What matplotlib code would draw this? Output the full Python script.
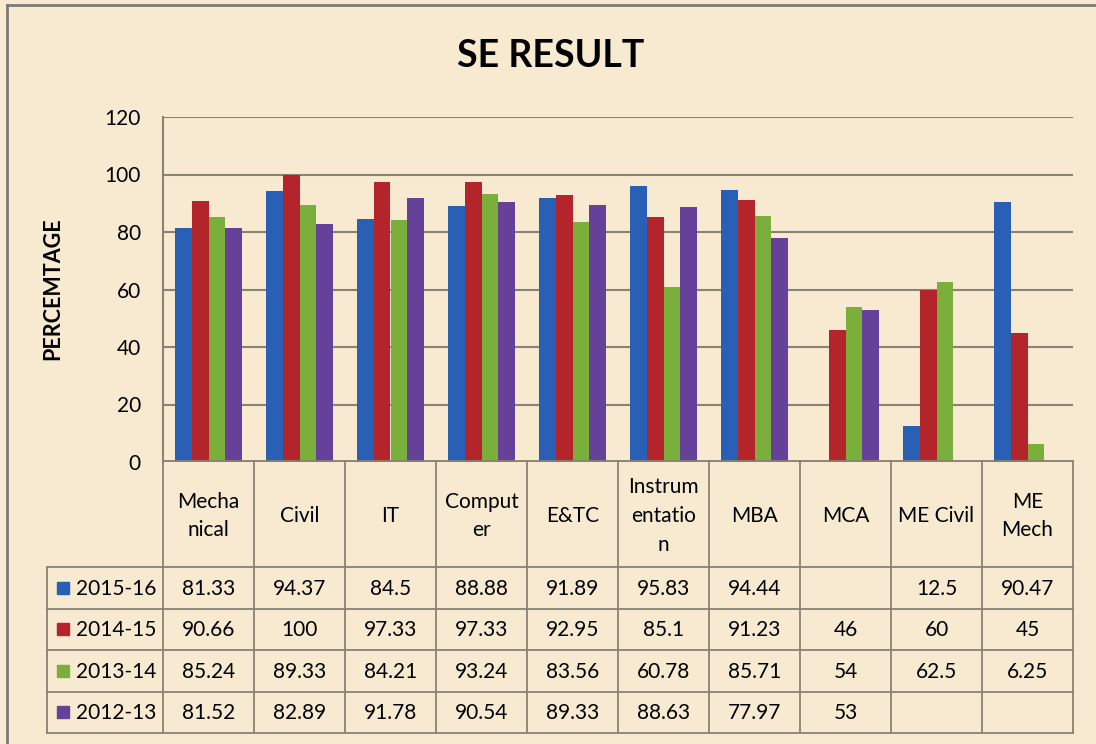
import numpy as np
import matplotlib.pyplot as plt
from matplotlib.patches import Rectangle
from matplotlib.lines import Line2D

plt.rcParams['font.family'] = ['Lato', 'DejaVu Sans']

categories = ["Mecha\nnical", "Civil", "IT", "Comput\ner", "E&TC",
              "Instrum\nentatio\nn", "MBA", "MCA", "ME Civil", "ME\nMech"]
years = ["2015-16", "2014-15", "2013-14", "2012-13"]
r_2015_16 = [81.33, 94.37, 84.5, 88.88, 91.89, 95.83, 94.44, np.nan, 12.5, 90.47]
r_2014_15 = [90.66, 100, 97.33, 97.33, 92.95, 85.1, 91.23, 46, 60, 45]
r_2013_14 = [85.24, 89.33, 84.21, 93.24, 83.56, 60.78, 85.71, 54, 62.5, 6.25]
r_2012_13 = [81.52, 82.89, 91.78, 90.54, 89.33, 88.63, 77.97, 53, np.nan, np.nan]
series = [r_2015_16, r_2014_15, r_2013_14, r_2012_13]
colors = ["#2A5FB6", "#B3252A", "#7BAF3B", "#65419A"]

W, H = 1096, 744
bg = "#F7EAD0"
line_c = "#8A8272"

fig = plt.figure(figsize=(W / 100, H / 100), dpi=100, facecolor=bg)

# outer frame: only top and left edges show in the reference
fig.lines.append(Line2D([7 / W, 7 / W], [0, 1 - 5 / H], transform=fig.transFigure,
                        color="#7A7A7A", lw=2))
fig.lines.append(Line2D([7 / W, 1], [1 - 5 / H, 1 - 5 / H], transform=fig.transFigure,
                        color="#7A7A7A", lw=2))

fig.text(551 / W, 1 - 56 / H, "SE RESULT", ha="center", va="center",
         fontsize=27, fontweight="bold")
fig.text(53 / W, 1 - 289 / H, "PERCEMTAGE", ha="center", va="center",
         rotation=90, fontsize=15.5, fontweight="bold")

# bar chart
ax = fig.add_axes([163 / W, 1 - 462 / H, (1073 - 163) / W, (462 - 117) / H])
ax.set_facecolor("none")
x = np.arange(len(categories))
bw = 0.183
for i, (vals, c) in enumerate(zip(series, colors)):
    ax.bar(x + (i - 1.5) * bw, vals, width=bw, color=c, zorder=2)
ax.set_xlim(-0.5, 9.5)
ax.set_ylim(0, 120)
ax.set_yticks(range(0, 121, 20))
ax.yaxis.grid(True, color=line_c, lw=1.5)
ax.set_axisbelow(True)
ax.set_xticks([])
ax.tick_params(axis="y", length=0, pad=16, labelsize=15)
for s in ["top", "right", "bottom"]:
    ax.spines[s].set_visible(False)
ax.spines["left"].set_color(line_c)
ax.spines["left"].set_linewidth(1.5)

# data table
row_top = 106
row_h = 41.5
tot_h = row_top + 4 * row_h
cw = 91.0
left = -0.5 - 116 / cw
tax = fig.add_axes([47 / W, 1 - 733 / H, (1073 - 47) / W, tot_h / H])
tax.set_xlim(left, 9.5)
tax.set_ylim(tot_h, 0)
tax.axis("off")

lk = dict(color=line_c, lw=1.3, clip_on=False)
for k in range(11):
    tax.plot([k - 0.5, k - 0.5], [0, tot_h], **lk)
tax.plot([left, left], [row_top, tot_h], **lk)
tax.plot([-0.5, 9.5], [0, 0], **lk)
for r in range(5):
    yy = row_top + r * row_h
    tax.plot([left, 9.5], [yy, yy], **lk)

for i, cat in enumerate(categories):
    tax.text(i, row_top / 2 + 2, cat, ha="center", va="center",
             fontsize=15, linespacing=1.55)

for r, (yr, vals, c) in enumerate(zip(years, series, colors)):
    yc = row_top + (r + 0.5) * row_h
    tax.add_patch(Rectangle((left + 10 / cw, yc - 6), 12 / cw, 12,
                            color=c, clip_on=False))
    tax.text(left + 29 / cw, yc + 1, yr, ha="left", va="center", fontsize=15)
    for i, v in enumerate(vals):
        if not np.isnan(v):
            tax.text(i, yc + 1, f"{v:g}", ha="center", va="center",
                     fontsize=15)

fig.savefig("out.png", dpi=100, facecolor=bg)
